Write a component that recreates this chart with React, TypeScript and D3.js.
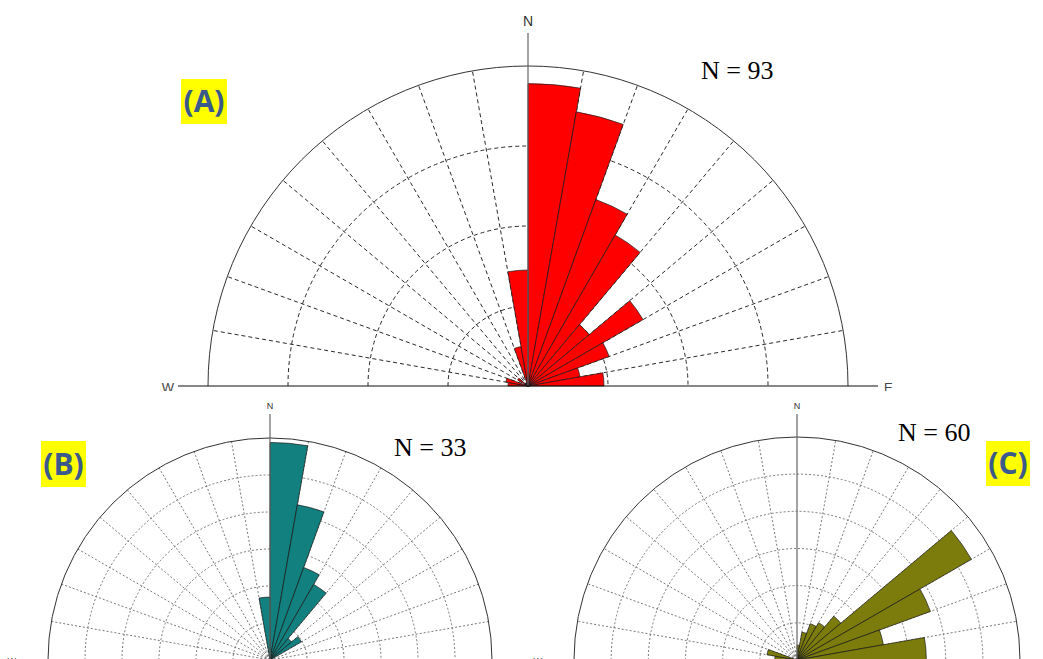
import React from "react";
import * as d3 from "d3";

// Bin start azimuths (degrees, clockwise from N) and bar lengths (% scale)
const A_BINS = [0, 10, 20, 30, 40, 50, 60, 70, 80, 270, 280, 300, 340, 350];
const A_VALUES = [18.9, 17.4, 12.4, 10.9, 5.0, 8.3, 5.4, 3.3, 4.75, 1.25, 1.4, 0.75, 2.5, 7.25];

const B_BINS = [0, 10, 20, 30, 40, 50, 350];
const B_VALUES = [29.4, 21.3, 13.3, 11.8, 3.8, 4.9, 8.5];

const C_BINS = [0, 10, 20, 30, 40, 50, 60, 70, 80, 270, 280];
const C_VALUES = [2.0, 3.8, 5.2, 5.8, 7.7, 27.1, 19.1, 11.8, 17.4, 3.0, 4.1];

const COUNT_LABELS = ["N = 93", "N = 33", "N = 60"];
const PANEL_LABELS = ["(A)", "(B)", "(C)"];
const BIN_WIDTH = 10;

type PanelCfg = {
  id: string;
  cx: number;
  cy: number;
  R: number;
  max: number;
  ringStep: number;
  bins: number[];
  values: number[];
  fill: string;
  gridColor: string;
  gridDash: string;
  gridWidth: number;
  clip: [number, number, number, number];
  nLabelY: number;
  nFont: number;
  axisTop: number;
  baseExt: number;
  wecFont: number;
  wecDy: number;
};

const panels: PanelCfg[] = [
  {
    id: "A", cx: 528, cy: 386, R: 320, max: 20, ringStep: 5,
    bins: A_BINS, values: A_VALUES, fill: "#ff0000",
    gridColor: "#111", gridDash: "4,3", gridWidth: 0.9,
    clip: [0, 0, 1043, 391], nLabelY: 26, nFont: 14, axisTop: 33, baseExt: 30, wecFont: 13, wecDy: 6,
  },
  {
    id: "B", cx: 270, cy: 660, R: 222, max: 30, ringStep: 5,
    bins: B_BINS, values: B_VALUES, fill: "#12807e",
    gridColor: "#6a6a6a", gridDash: "2,2", gridWidth: 0.9,
    clip: [0, 393, 522, 266], nLabelY: 409, nFont: 9, axisTop: 414, baseExt: 28, wecFont: 9, wecDy: 4,
  },
  {
    id: "C", cx: 797, cy: 660, R: 223, max: 30, ringStep: 5,
    bins: C_BINS, values: C_VALUES, fill: "#7c7c0c",
    gridColor: "#6a6a6a", gridDash: "2,2", gridWidth: 0.9,
    clip: [522, 393, 521, 266], nLabelY: 409, nFont: 9, axisTop: 414, baseExt: 28, wecFont: 9, wecDy: 4,
  },
];

const rad = (deg: number) => (deg * Math.PI) / 180;

function Panel({ p }: { p: PanelCfg }) {
  const r = d3.scaleLinear().domain([0, p.max]).range([0, p.R]);
  const arc = d3.arc<any>();
  const rings = d3.range(p.ringStep, p.max, p.ringStep);
  const spokes = d3.range(-80, 90, 10).filter((a) => a !== 0);

  const ringPath = (rr: number) => {
    const path = d3.path();
    path.arc(p.cx, p.cy, rr, -Math.PI, 0);
    return path.toString();
  };

  return (
    <g clipPath={`url(#clip${p.id})`}>
      {rings.map((v) => (
        <path key={`r${v}`} d={ringPath(r(v))} fill="none" stroke={p.gridColor}
          strokeWidth={p.gridWidth} strokeDasharray={p.gridDash} />
      ))}
      {spokes.map((a) => (
        <line key={`s${a}`} x1={p.cx} y1={p.cy}
          x2={p.cx + p.R * Math.sin(rad(a))} y2={p.cy - p.R * Math.cos(rad(a))}
          stroke={p.gridColor} strokeWidth={p.gridWidth} strokeDasharray={p.gridDash} />
      ))}
      <g transform={`translate(${p.cx},${p.cy})`}>
        {p.bins.map((b, i) => (
          <path key={`b${b}`}
            d={arc({ innerRadius: 0, outerRadius: r(p.values[i]), startAngle: rad(b), endAngle: rad(b + BIN_WIDTH) }) || ""}
            fill={p.fill} stroke="#1a1a1a" strokeWidth={0.7} strokeLinejoin="round" />
        ))}
      </g>
      <path d={ringPath(p.R)} fill="none" stroke="#333" strokeWidth={1} />
      <line x1={p.cx} y1={p.axisTop} x2={p.cx} y2={p.cy} stroke="#666" strokeWidth={1.2} />
      <text x={p.cx} y={p.nLabelY} textAnchor="middle" fontFamily="Liberation Sans, Arial, sans-serif"
        fontSize={p.nFont} fill="#333">N</text>
      <line x1={p.cx - p.R - p.baseExt} y1={p.cy} x2={p.cx + p.R + p.baseExt} y2={p.cy}
        stroke="#111" strokeWidth={1.2} />
      <text x={p.cx - p.R - p.baseExt - 4} y={p.cy + p.wecDy} textAnchor="end"
        fontFamily="Liberation Sans, Arial, sans-serif" fontSize={p.wecFont} fill="#444">W</text>
      <text x={p.cx + p.R + p.baseExt + 6} y={p.cy + p.wecDy} textAnchor="start"
        fontFamily="Liberation Sans, Arial, sans-serif" fontSize={p.wecFont} fill="#444">E</text>
    </g>
  );
}

const countPos = [
  { x: 701, y: 79 },
  { x: 394, y: 456 },
  { x: 898, y: 441 },
];
const tagBoxes = [
  { x: 181, y: 79, w: 46, h: 45 },
  { x: 41, y: 441, w: 45, h: 46 },
  { x: 986, y: 441, w: 44, h: 45 },
];

export default function App() {
  return (
    <svg width={1043} height={659} style={{ position: "absolute", left: 0, top: 0, background: "#fff" }}>
      <defs>
        {panels.map((p) => (
          <clipPath key={p.id} id={`clip${p.id}`}>
            <rect x={p.clip[0]} y={p.clip[1]} width={p.clip[2]} height={p.clip[3]} />
          </clipPath>
        ))}
      </defs>
      <rect x={0} y={0} width={1043} height={659} fill="#fff" />
      {panels.map((p) => (
        <Panel key={p.id} p={p} />
      ))}
      {COUNT_LABELS.map((t, i) => (
        <text key={t} x={countPos[i].x} y={countPos[i].y} fontFamily="Liberation Serif, Times New Roman, serif"
          fontSize={26} fill="#000">{t}</text>
      ))}
      {PANEL_LABELS.map((t, i) => (
        <g key={t}>
          <rect x={tagBoxes[i].x} y={tagBoxes[i].y} width={tagBoxes[i].w} height={tagBoxes[i].h} fill="#ffff00" />
          <text x={tagBoxes[i].x + tagBoxes[i].w / 2} y={tagBoxes[i].y + tagBoxes[i].h / 2 + 10.5}
            textAnchor="middle" fontFamily="Open Sans, Lato, sans-serif" fontWeight={700}
            fontSize={30} fill="#3a5a8e">{t}</text>
        </g>
      ))}
    </svg>
  );
}
